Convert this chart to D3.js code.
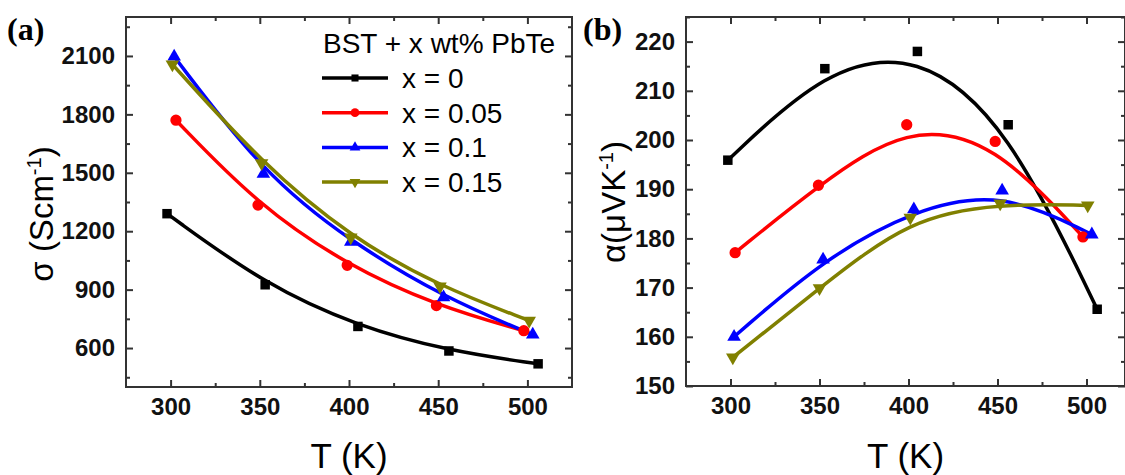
<!DOCTYPE html>
<html>
<head>
<meta charset="utf-8">
<script src="https://cdn.jsdelivr.net/npm/d3@7"></script>
<style>
  body { margin: 0; background: #fff; }
  .tick text { font-family: "Liberation Sans", Arial, sans-serif; font-weight: bold; font-size: 24px; fill: #111; }
</style>
</head>
<body>
<div id="chart"></div>
<script>
/*
 * BST + x wt% PbTe : conductivity (a) and Seebeck coefficient (b) vs T
 */

// ---- data ----
var seriesNames = ["x = 0", "x = 0.05", "x = 0.1", "x = 0.15"];

// (a) sigma (S/cm)
var sigmaT = [
  [298, 353, 405, 456, 506],
  [303, 349, 399, 449, 498],
  [302, 352, 401, 453, 503],
  [301, 351, 401, 451, 501]
];
var sigmaVals = [
  [1290, 925, 711, 585, 519],
  [1770, 1334, 1025, 818, 689],
  [2097, 1495, 1145, 861, 669],
  [2057, 1550, 1168, 916, 741]
];

// (b) alpha (uV/K)
var alphaT = [
  [298.5, 353, 405, 456, 506],
  [302.6, 349.4, 399, 448.7, 498],
  [302, 352, 403, 452.6, 503],
  [301.3, 350, 401, 451.5, 500.7]
];
var alphaVals = [
  [195.9, 214.5, 218, 203.1, 165.6],
  [177.1, 190.8, 203.1, 199.7, 180.3],
  [160, 175.7, 185.9, 189.7, 180.8],
  [155.8, 169.9, 184.2, 187.1, 186.7]
];

var xTicks = [300, 350, 400, 450, 500];
var sigmaTicks = [600, 900, 1200, 1500, 1800, 2100];
var alphaTicks = [150, 160, 170, 180, 190, 200, 210, 220];

// ---- styles ----
var colors = ["#000000", "#ff0000", "#0000ff", "#808000"];
var symbols = [d3.symbolSquare, d3.symbolCircle, d3.symbolTriangle, d3.symbolTriangle];
var symSize = [90, 100, 80, 80];
var symRot = [0, 0, 0, 180];
var font = '"Liberation Sans", Arial, sans-serif';

var W = 1125, H = 475;

var svg = d3.select("#chart").append("svg")
  .attr("width", W)
  .attr("height", H);

svg.append("rect").attr("width", W).attr("height", H).attr("fill", "#fff");

function drawPanel(opt) {
  var g = svg.append("g");
  var x = d3.scaleLinear().domain(opt.xDomain).range([opt.left, opt.right]);
  var y = d3.scaleLinear().domain(opt.yDomain).range([opt.bottom, opt.top]);

  var xMinor = d3.range(325, 525, 50);

  // frame
  g.append("rect")
    .attr("x", opt.left).attr("y", opt.top)
    .attr("width", opt.right - opt.left).attr("height", opt.bottom - opt.top)
    .attr("fill", "none").attr("stroke", "#333").attr("stroke-width", 2);

  function ticks(axis, pos, vals, size, labels) {
    var a = g.append("g")
      .attr("transform", pos)
      .call(axis.tickValues(vals).tickSize(-size).tickPadding(labels ? 11 : 0)
        .tickFormat(labels ? d3.format("d") : ""));
    a.select(".domain").remove();
    a.selectAll(".tick line").attr("stroke", "#333").attr("stroke-width", 2);
    return a;
  }

  // inward ticks on all four sides, labels only bottom / left
  ticks(d3.axisBottom(x), "translate(0," + opt.bottom + ")", xTicks, 7, true);
  ticks(d3.axisBottom(x), "translate(0," + opt.bottom + ")", xMinor, 4, false);
  ticks(d3.axisTop(x), "translate(0," + opt.top + ")", xTicks, 7, false);
  ticks(d3.axisTop(x), "translate(0," + opt.top + ")", xMinor, 4, false);
  ticks(d3.axisLeft(y), "translate(" + opt.left + ",0)", opt.yTicks, 7, true);
  ticks(d3.axisLeft(y), "translate(" + opt.left + ",0)", opt.yMinor, 4, false);
  ticks(d3.axisRight(y), "translate(" + opt.right + ",0)", opt.yTicks, 7, false);
  ticks(d3.axisRight(y), "translate(" + opt.right + ",0)", opt.yMinor, 4, false);

  // B-spline curves through the points
  var line = d3.line()
    .x(function (d) { return x(d[0]); })
    .y(function (d) { return y(d[1]); })
    .curve(d3.curveBasis);

  opt.temps.forEach(function (ts, i) {
    var pts = ts.map(function (t, k) { return [t, opt.vals[i][k]]; });
    g.append("path")
      .datum(pts)
      .attr("fill", "none")
      .attr("stroke", colors[i])
      .attr("stroke-width", 3.5)
      .attr("d", line);
  });

  // markers
  opt.temps.forEach(function (ts, i) {
    g.selectAll(".m" + i)
      .data(ts.map(function (t, k) { return [t, opt.vals[i][k]]; }))
      .enter().append("path")
      .attr("class", "m" + i)
      .attr("fill", colors[i])
      .attr("d", d3.symbol().type(symbols[i]).size(symSize[i]))
      .attr("transform", function (d) {
        return "translate(" + x(d[0]) + "," + y(d[1]) + ") rotate(" + symRot[i] + ")";
      });
  });

  // panel letter
  svg.append("text")
    .attr("x", opt.letterX).attr("y", 40)
    .style("font-family", '"Liberation Serif", "Times New Roman", serif')
    .style("font-weight", "bold").style("font-size", "32px")
    .text(opt.letter);

  // x title
  svg.append("text")
    .attr("x", (opt.left + opt.right) / 2).attr("y", 468)
    .attr("text-anchor", "middle")
    .style("font-family", font).style("font-size", "35px")
    .text("T (K)");

  // y title
  var yt = svg.append("text")
    .attr("transform", "translate(" + opt.yTitleX + "," + opt.yTitleY + ") rotate(-90)")
    .attr("text-anchor", "middle")
    .style("font-family", font).style("font-size", "33px");
  yt.append("tspan").text(opt.yTitle);
  yt.append("tspan").attr("dy", -12).style("font-size", "20px").text("-1");
  yt.append("tspan").attr("dy", 12).text(")");
}

drawPanel({
  left: 126, right: 572, top: 17, bottom: 387,
  xDomain: [275, 525], yDomain: [400, 2300],
  yTicks: sigmaTicks, yMinor: d3.range(450, 2300, 300),
  temps: sigmaT, vals: sigmaVals,
  letter: "(a)", letterX: 7,
  yTitle: "\u03c3 (Scm", yTitleX: 53, yTitleY: 214
});

drawPanel({
  left: 686, right: 1125, top: 17, bottom: 386,
  xDomain: [275, 275 + (1125 - 686) / 1.78], yDomain: [150, 225],
  yTicks: alphaTicks, yMinor: d3.range(155, 226, 10),
  temps: alphaT, vals: alphaVals,
  letter: "(b)", letterX: 583,
  yTitle: "\u03b1(\u03bcVK", yTitleX: 625, yTitleY: 202
});

// legend (panel a)
var leg = svg.append("g");
leg.append("text")
  .attr("x", 323).attr("y", 53)
  .style("font-family", font).style("font-size", "28px")
  .text("BST + x wt% PbTe");

var legSize = [50, 60, 50, 50];
seriesNames.forEach(function (name, i) {
  var cy = 78 + i * 34.7;
  leg.append("line")
    .attr("x1", 322).attr("x2", 388).attr("y1", cy).attr("y2", cy)
    .attr("stroke", colors[i]).attr("stroke-width", 3.5);
  leg.append("path")
    .attr("fill", colors[i])
    .attr("d", d3.symbol().type(symbols[i]).size(legSize[i]))
    .attr("transform", "translate(355," + cy + ") rotate(" + symRot[i] + ")");
  leg.append("text")
    .attr("x", 402).attr("y", cy + 10)
    .style("font-family", font).style("font-size", "28px")
    .text(name);
});
</script>
</body>
</html>
